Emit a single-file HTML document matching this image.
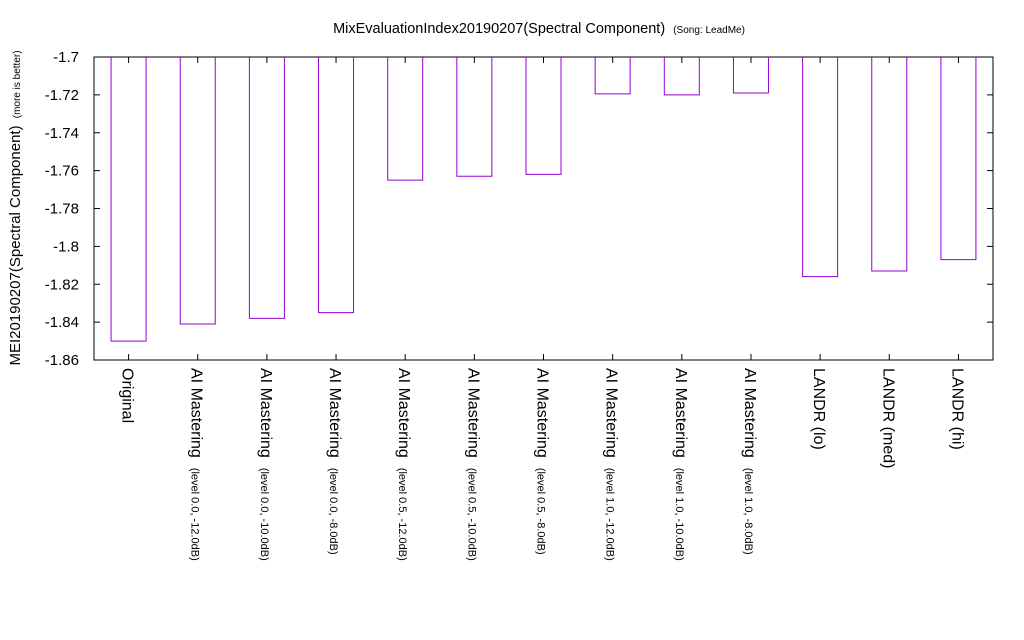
<!DOCTYPE html>
<html><head><meta charset="utf-8"><style>
html,body{margin:0;padding:0;background:#fff;}
svg{display:block;font-family:"Liberation Sans",Arial,sans-serif;}
</style></head><body>
<svg id="chart" width="1024" height="640">
<text x="539" y="33" text-anchor="middle" font-size="14.5">MixEvaluationIndex20190207(Spectral Component) <tspan font-size="10" dx="4">(Song: LeadMe)</tspan></text>
<text transform="translate(20,208) rotate(-90)" text-anchor="middle" font-size="15">MEI20190207(Spectral Component) <tspan font-size="10" dx="3">(more is better)</tspan></text>
<rect x="94" y="57" width="899" height="303" fill="none" stroke="#000" stroke-width="1"/>
</svg>
<script>
const categories = ["Original","AI Mastering","AI Mastering","AI Mastering","AI Mastering","AI Mastering","AI Mastering","AI Mastering","AI Mastering","AI Mastering","LANDR (lo)","LANDR (med)","LANDR (hi)"];
const subLabels = ["","(level 0.0, -12.0dB)","(level 0.0, -10.0dB)","(level 0.0, -8.0dB)","(level 0.5, -12.0dB)","(level 0.5, -10.0dB)","(level 0.5, -8.0dB)","(level 1.0, -12.0dB)","(level 1.0, -10.0dB)","(level 1.0, -8.0dB)","","",""];
const values = [-1.850,-1.841,-1.838,-1.835,-1.765,-1.763,-1.762,-1.7195,-1.720,-1.719,-1.816,-1.813,-1.807];
const yTicks = [-1.7,-1.72,-1.74,-1.76,-1.78,-1.8,-1.82,-1.84,-1.86];
const yTickLabels = ["-1.7","-1.72","-1.74","-1.76","-1.78","-1.8","-1.82","-1.84","-1.86"];

const svg = document.getElementById('chart');
const NS = 'http://www.w3.org/2000/svg';
const X0 = 94, X1 = 993, Y0 = 57, Y1 = 360, yMax = -1.7, yMin = -1.86;
const step = (X1 - X0) / categories.length;
const xc = i => X0 + step * (i + 0.5);
const y = v => Y0 + (yMax - v) / (yMax - yMin) * (Y1 - Y0);
function mk(tag, attrs){const e=document.createElementNS(NS,tag);for(const k in attrs)e.setAttribute(k,attrs[k]);svg.appendChild(e);return e;}

yTicks.forEach((t,i)=>{
  const yy = y(t);
  const tk = mk('line',{x1:X0,x2:X0+6,y1:yy,y2:yy,stroke:'#000'});
  
  
  const tk2 = mk('line',{x1:X1-6,x2:X1,y1:yy,y2:yy,stroke:'#000'});
  
  
  const lb = mk('text',{x:79,y:yy+5,'text-anchor':'end','font-size':15});
  lb.textContent = yTickLabels[i];
  
  
});

categories.forEach((c,i)=>{
  const cx = xc(i), bw = 35;
  const top = y(yMax), bot = y(values[i]);
  const l = cx - bw/2, r = cx + bw/2;
  const bar = mk('polyline',{points:`${l},${top} ${l},${bot} ${r},${bot} ${r},${top}`,fill:'none',stroke:'#9400d3','stroke-width':1});
  
  
  const tk = mk('line',{x1:cx,x2:cx,y1:Y1,y2:Y1-6,stroke:'#000'});
  
  
  const tk2 = mk('line',{x1:cx,x2:cx,y1:Y0,y2:Y0+6,stroke:'#000'});
  
  
  const t = mk('text',{transform:`translate(${cx-6},368) rotate(90)`,'font-size':16});
  t.textContent = c;
  if (subLabels[i]) {
    const ts = document.createElementNS(NS,'tspan');
    ts.setAttribute('font-size','11');
    ts.setAttribute('dx','10');
    ts.textContent = subLabels[i];
    t.appendChild(ts);
  }
  
  
});
</script>
</body></html>
